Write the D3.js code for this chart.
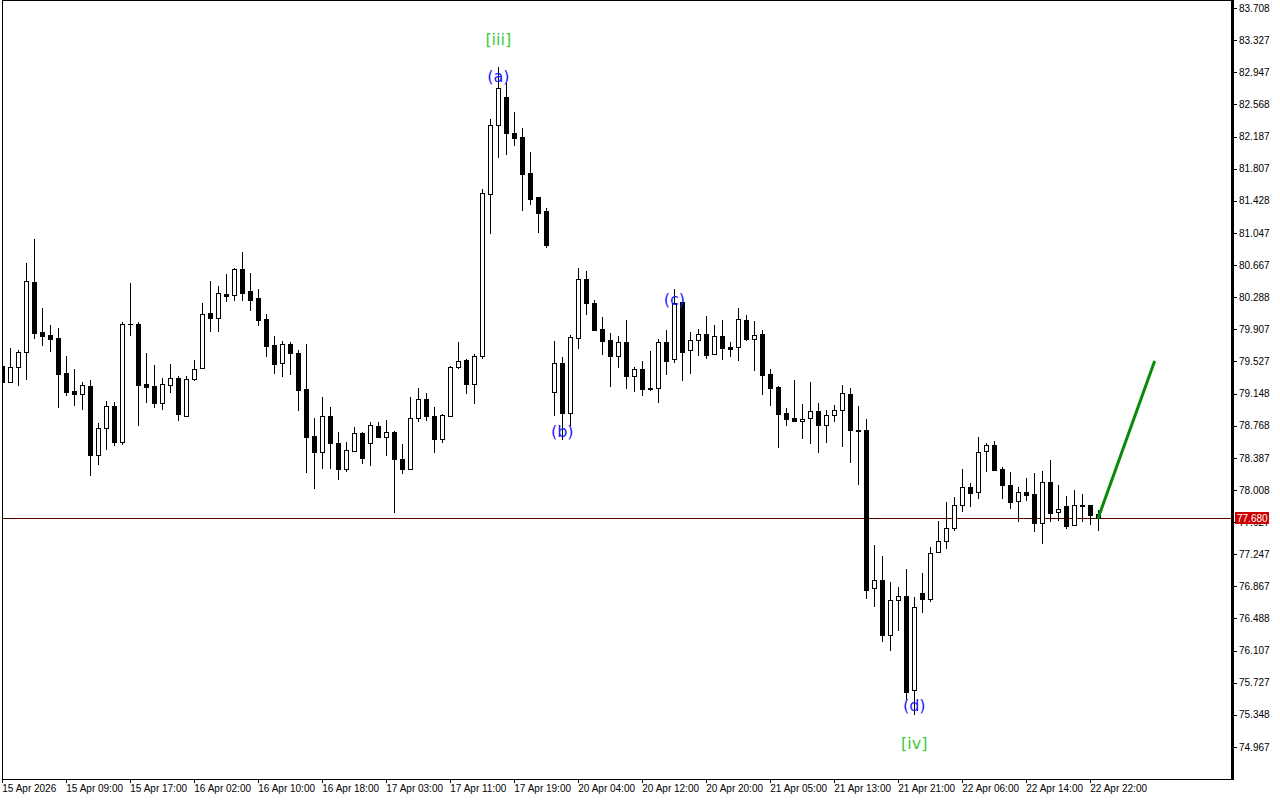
<!DOCTYPE html>
<html><head><meta charset="utf-8">
<script src="https://cdn.jsdelivr.net/npm/d3@7/dist/d3.min.js"></script>
<style>html,body{margin:0;padding:0;background:#fff;overflow:hidden}svg{display:block}</style>
</head><body>
<svg id="c" width="1280" height="800"></svg>
<script>
const opens  = [79.47,79.288,79.458,79.636,80.467,79.876,79.840,79.805,79.391,79.178,79.146,79.241,78.424,78.743,79.000,78.575,79.970,79.970,79.261,79.237,79.040,79.252,79.332,78.879,79.316,79.446,80.101,80.045,80.325,80.310,80.621,80.361,80.278,80.029,79.722,79.505,79.734,79.627,79.201,78.646,78.460,78.882,78.563,78.259,78.472,78.685,78.566,78.764,78.637,78.693,78.373,78.252,78.855,79.080,78.882,78.614,78.879,79.458,79.541,79.257,79.588,81.504,82.321,82.655,82.233,82.182,81.756,81.472,81.307,79.170,79.505,78.921,79.808,80.499,80.219,79.907,79.777,79.595,79.757,79.352,79.434,79.210,79.210,79.757,79.553,80.227,79.659,79.777,79.852,79.612,79.829,79.698,79.702,80.017,79.796,79.856,79.379,79.225,78.914,78.858,78.826,78.855,78.938,78.779,78.890,78.949,79.142,78.713,78.713,76.844,76.939,76.295,76.702,76.749,75.638,76.789,76.722,77.270,77.400,77.554,77.826,78.039,77.980,78.465,78.536,78.251,78.062,77.873,77.983,77.956,77.620,78.098,77.743,77.818,77.589,77.826,77.826,77.723];
const highs  = [79.52,79.683,79.663,80.695,80.976,80.159,79.958,79.923,79.592,79.438,79.285,79.304,78.803,79.059,79.047,79.994,80.459,79.994,79.627,79.485,79.332,79.497,79.355,79.355,79.545,80.222,80.479,80.420,80.562,80.633,80.822,80.574,80.384,80.089,79.829,79.769,79.761,79.663,79.734,78.855,79.107,78.985,78.689,78.571,78.748,78.693,78.807,78.815,78.835,78.699,78.551,79.103,79.210,79.158,78.985,78.906,79.473,79.758,79.556,79.615,81.571,82.395,83.014,82.824,82.478,82.289,82.005,81.475,81.342,79.769,79.584,79.840,80.629,80.597,80.254,80.049,79.860,79.829,80.013,79.458,79.533,79.655,79.789,79.899,80.381,80.230,79.876,79.911,80.065,79.958,80.017,79.758,80.159,80.077,80.006,79.899,79.438,79.237,78.977,79.308,79.024,79.284,79.036,78.953,79.016,79.249,79.213,79.000,78.847,77.356,77.230,76.919,76.859,77.072,76.741,77.025,77.333,77.640,77.865,77.924,78.255,78.090,78.634,78.566,78.586,78.283,78.220,78.042,78.145,78.208,78.232,78.358,78.066,77.936,78.007,77.960,77.830,77.770];
const lows   = [79.26,79.276,79.241,79.308,79.796,79.710,79.639,78.980,79.122,79.004,78.953,78.172,78.303,78.480,78.527,78.539,79.829,78.767,79.036,78.980,78.957,79.158,78.827,78.876,79.300,79.444,79.879,79.879,80.234,80.246,80.246,80.128,79.950,79.584,79.383,79.347,79.371,78.945,78.211,78.015,78.259,78.259,78.125,78.216,78.468,78.318,78.291,78.634,78.409,77.731,78.193,78.243,78.815,78.827,78.448,78.559,78.870,79.442,79.146,79.028,79.560,81.038,81.937,81.969,82.079,81.310,81.378,81.050,80.873,78.886,78.598,78.760,79.678,80.077,79.893,79.604,79.229,79.453,79.205,79.170,79.119,79.182,79.032,79.371,79.505,79.300,79.379,79.595,79.560,79.609,79.545,79.584,79.536,79.765,79.418,79.134,79.000,78.507,78.767,78.807,78.610,78.555,78.448,78.566,78.808,78.519,78.330,78.070,76.714,76.627,76.212,76.106,76.343,75.523,75.346,76.556,76.685,77.267,77.313,77.518,77.750,77.809,77.904,78.223,78.238,77.904,77.786,77.632,77.880,77.514,77.372,77.632,77.644,77.549,77.587,77.632,77.593,77.525];
const closes = [79.288,79.458,79.636,80.479,79.867,79.832,79.796,79.383,79.169,79.146,79.249,78.424,78.740,79.000,78.575,79.970,79.965,79.252,79.229,79.040,79.257,79.328,78.909,79.316,79.438,80.089,80.045,80.337,80.305,80.621,80.341,80.258,80.021,79.714,79.501,79.734,79.624,79.193,78.637,78.460,78.882,78.559,78.259,78.480,78.681,78.389,78.776,78.637,78.693,78.377,78.252,78.855,79.080,78.879,78.614,78.890,79.458,79.536,79.257,79.592,81.516,82.321,82.761,82.233,82.174,81.748,81.452,81.287,80.908,79.505,78.914,79.813,80.499,80.215,79.899,79.769,79.595,79.757,79.359,79.438,79.205,79.207,79.754,79.536,80.222,79.643,79.777,79.852,79.607,79.828,79.690,79.678,80.029,79.796,79.837,79.371,79.213,78.909,78.850,78.826,78.852,78.938,78.779,78.890,78.949,79.151,78.720,78.710,76.828,76.939,76.295,76.706,76.749,75.621,76.619,76.722,77.258,77.400,77.554,77.826,78.039,77.975,78.453,78.536,78.243,78.070,77.869,77.983,77.951,77.620,78.098,77.738,77.786,77.585,77.826,77.822,77.715,77.680];

const timeLabels = ["15 Apr 2026","15 Apr 09:00","15 Apr 17:00","16 Apr 02:00","16 Apr 10:00","16 Apr 18:00","17 Apr 03:00","17 Apr 11:00","17 Apr 19:00","20 Apr 04:00","20 Apr 12:00","20 Apr 20:00","21 Apr 05:00","21 Apr 13:00","21 Apr 21:00","22 Apr 06:00","22 Apr 14:00","22 Apr 22:00"];
const timeLabelBars = [0,8,16,24,32,40,48,56,64,72,80,88,96,104,112,120,128,136];
const priceTicks = [83.708,83.327,82.947,82.568,82.187,81.807,81.428,81.047,80.667,80.288,79.907,79.527,79.148,78.768,78.387,78.008,77.627,77.247,76.867,76.488,76.107,75.727,75.348,74.967];
const lastPrice = 77.680;
const forecastBars = [137,144];
const forecastPrices = [77.680,79.52];
const waveLabels = ["[iii]","(a)","(b)","(c)","(d)","[iv]"];
const waveBars   = [62,62,70,84,114,114];
const wavePrices = [83.341,82.90,78.693,80.266,75.452,75.014];
const waveKinds  = ["major","minor","minor","minor","minor","major"];

const svg = d3.select("#c");
const L = 2, R = 1231, T = 0, B = 779;
const x = d3.scaleLinear().domain([0, 100]).range([2.3, 802.3]);
const y = d3.scaleLinear().domain([74.967, 83.708]).range([747, 8]);

const plot = svg.append("g");
svg.append("defs").append("clipPath").attr("id","clip")
  .append("rect").attr("x",L+0.5).attr("y",T).attr("width",R-L-0.5).attr("height",B-T);
plot.attr("clip-path","url(#clip)");

// last price line
plot.append("line").attr("x1",L).attr("x2",R).attr("y1",Math.round(y(lastPrice))+0.5).attr("y2",Math.round(y(lastPrice))+0.5)
  .attr("stroke","#5a0000").attr("stroke-width",1).attr("shape-rendering","crispEdges");

const candles = d3.range(opens.length).map(i => ({i, o:opens[i], h:highs[i], l:lows[i], c:closes[i]}));
const cx = d => Math.round(x(d.i)) + 0.5;
const g = plot.append("g").attr("shape-rendering","crispEdges");
g.selectAll("line.w").data(candles).join("line").attr("class","w")
  .attr("x1",cx).attr("x2",cx).attr("y1",d=>Math.round(y(d.h))).attr("y2",d=>Math.round(y(d.l)))
  .attr("stroke","#000").attr("stroke-width",1);
g.selectAll("rect.b").data(candles).join("rect").attr("class","b")
  .attr("x",d=>cx(d)-2).attr("width",4)
  .attr("y",d=>Math.round(y(Math.max(d.o,d.c)))+0.5)
  .attr("height",d=>Math.max(0.01, Math.round(y(Math.min(d.o,d.c))) - Math.round(y(Math.max(d.o,d.c)))))
  .attr("fill",d=>d.c>=d.o ? "#fff" : "#000").attr("stroke","#000").attr("stroke-width",1);

// forecast line
plot.append("line").attr("x1",x(forecastBars[0])).attr("y1",y(forecastPrices[0]))
  .attr("x2",x(forecastBars[1])).attr("y2",y(forecastPrices[1]))
  .attr("stroke","#0a8a0a").attr("stroke-width",3).attr("stroke-linecap","round");

// wave labels
svg.append("g").selectAll("text").data(waveLabels).join("text")
  .attr("x",(d,k)=>x(waveBars[k])).attr("y",(d,k)=>y(wavePrices[k]))
  .attr("text-anchor","middle").attr("dominant-baseline","central")
  .attr("font-family","DejaVu Sans, sans-serif").attr("font-size",16)
  .attr("fill",(d,k)=>waveKinds[k]==="major" ? "#3ccc3c" : "#1a1aff")
  .text(d=>d);

// frame
svg.append("rect").attr("x",L+0.5).attr("y",T+0.5).attr("width",R-L).attr("height",B-T)
  .attr("fill","none").attr("stroke","#000").attr("stroke-width",1).attr("shape-rendering","crispEdges");
svg.append("line").attr("x1",R+1.5).attr("x2",R+1.5).attr("y1",T).attr("y2",B+1)
  .attr("stroke","#000").attr("stroke-width",2).attr("shape-rendering","crispEdges");

// y axis
const yAxis = d3.axisRight(y).tickValues(priceTicks).tickFormat(d=>d.toFixed(3)).tickSize(4).tickPadding(2).tickSizeOuter(0);
const ya = svg.append("g").attr("transform",`translate(${R+2},0)`).call(yAxis);
ya.select(".domain").remove();
ya.selectAll("text").attr("font-family","Liberation Sans, Arial, sans-serif").attr("font-size",10).attr("fill","#000");
ya.selectAll("line").attr("stroke","#000").attr("shape-rendering","crispEdges");

// last price tag
const lp = Math.round(y(lastPrice));
svg.append("rect").attr("x",R+4).attr("y",lp-6).attr("width",34).attr("height",12).attr("fill","#cc0000");
svg.append("text").attr("x",R+6).attr("y",lp).attr("dominant-baseline","central")
  .attr("font-family","Liberation Sans, Arial, sans-serif").attr("font-size",10).attr("fill","#fff")
  .text(lastPrice.toFixed(3));

// x axis labels
const xa = svg.append("g");
xa.selectAll("line").data(timeLabelBars).join("line")
  .attr("x1",d=>Math.round(x(d))+0.5).attr("x2",d=>Math.round(x(d))+0.5).attr("y1",B).attr("y2",B+4)
  .attr("stroke","#000").attr("shape-rendering","crispEdges");
xa.selectAll("text").data(timeLabels).join("text")
  .attr("x",(d,k)=>x(timeLabelBars[k])).attr("y",792)
  .attr("font-family","Liberation Sans, Arial, sans-serif").attr("font-size",10).attr("fill","#000")
  .text(d=>d);
</script>
</body></html>
